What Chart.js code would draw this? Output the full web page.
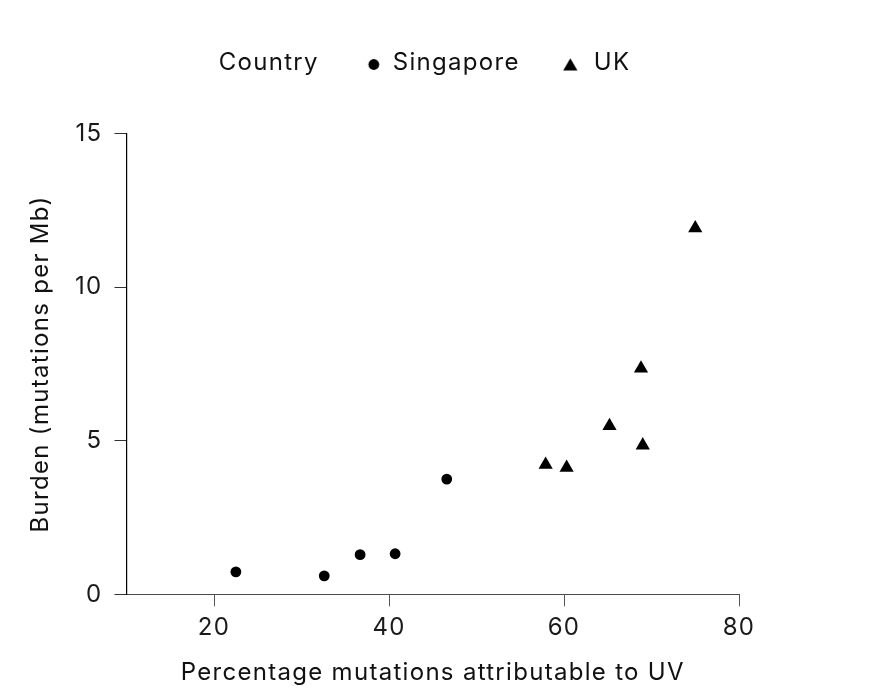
<!DOCTYPE html>
<html>
<head>
<meta charset="utf-8">
<script src="https://cdn.jsdelivr.net/npm/chart.js@4.4.1/dist/chart.umd.min.js"></script>
<style>
  html, body { margin: 0; padding: 0; background: #ffffff; }
  #wrap { width: 888px; height: 697px; position: relative; }
</style>
</head>
<body>
<div id="wrap"><canvas id="c"></canvas></div>
<script>
// ---- data ----
const seriesNames = ['Singapore', 'UK'];
const legendTitle = 'Country';
const singaporeX = [22.5, 32.6, 36.7, 40.7, 46.6];
const singaporeY = [0.73, 0.60, 1.29, 1.32, 3.75];
const ukX = [57.9, 60.3, 65.2, 68.8, 69.0, 75.0];
const ukY = [4.22, 4.12, 5.48, 7.35, 4.85, 11.92];
const xTicks = [20, 40, 60, 80];
const yTicks = [0, 5, 10, 15];
const xTitle = 'Percentage mutations attributable to UV';
const yTitle = 'Burden (mutations per Mb)';

// ---- styling ----
const FONT = 'Inter, "Noto Sans", sans-serif';
const FS = 24;
const TEXT = '#111111';
const LETTER_SPACING = '1.3px';

function toPoints(xs, ys) { return xs.map((x, i) => ({ x: x, y: ys[i] })); }

// legend symbols drawn with Chart.js' own point renderer
function symbolCanvas(style, radius, ox, oy) {
  const cv = document.createElement('canvas');
  cv.width = 30; cv.height = 30;
  const g = cv.getContext('2d');
  g.fillStyle = '#000';
  g.strokeStyle = '#000';
  Chart.helpers.drawPoint(g, { pointStyle: style, radius: radius, rotation: 0, borderWidth: 0 }, 15 + ox, 15 + oy);
  return cv;
}
const blankSymbol = document.createElement('canvas');
blankSymbol.width = 2; blankSymbol.height = 2;

const textSpacing = {
  id: 'textSpacing',
  beforeUpdate(chart) { chart.ctx.letterSpacing = LETTER_SPACING; },
  beforeLayout(chart) { chart.ctx.letterSpacing = LETTER_SPACING; },
  beforeDraw(chart) { chart.ctx.letterSpacing = LETTER_SPACING; }
};

const legendShift = {
  id: 'legendShift',
  afterLayout(chart, args, opts) {
    const lg = chart.legend;
    if (!lg) return;
    lg.left += opts.dx; lg.right += opts.dx;
    lg.top += opts.dy; lg.bottom += opts.dy;
  }
};

const symbols = [
  symbolCanvas('circle', 5.4, 0, 1.5),
  symbolCanvas('triangle', 8.2, -4.5, 3.5)
];

new Chart(document.getElementById('c'), {
  type: 'scatter',
  data: {
    datasets: [
      {
        label: seriesNames[0],
        data: toPoints(singaporeX, singaporeY),
        pointStyle: 'circle',
        pointRadius: 5.4,
        pointHoverRadius: 5.4,
        backgroundColor: '#000',
        borderColor: '#000',
        borderWidth: 0
      },
      {
        label: seriesNames[1],
        data: toPoints(ukX, ukY),
        pointStyle: 'triangle',
        pointRadius: 8.2,
        pointHoverRadius: 8.2,
        backgroundColor: '#000',
        borderColor: '#000',
        borderWidth: 0
      }
    ]
  },
  plugins: [textSpacing, legendShift],
  options: {
    responsive: true,
    maintainAspectRatio: false,
    animation: false,
    layout: { padding: { left: 20, right: 149, top: 51.5, bottom: 10 } },
    plugins: {
      legendShift: { dx: 32, dy: -48.5 },
      tooltip: { enabled: false },
      legend: {
        display: true,
        position: 'top',
        align: 'center',
        labels: {
          usePointStyle: true,
          pointStyleWidth: 14,
          padding: 48,
          color: TEXT,
          font: { family: FONT, size: FS },
          generateLabels: (chart) => {
            const items = [{
              text: legendTitle, pointStyle: blankSymbol, fillStyle: 'rgba(0,0,0,0)',
              strokeStyle: 'rgba(0,0,0,0)', lineWidth: 0, hidden: false, fontColor: TEXT
            }];
            chart.data.datasets.forEach((ds, i) => {
              items.push({
                text: ds.label, pointStyle: symbols[i], fillStyle: '#000',
                strokeStyle: '#000', lineWidth: 0, hidden: false, datasetIndex: i, fontColor: TEXT
              });
            });
            return items;
          }
        },
        onClick: () => {}
      }
    },
    scales: {
      x: {
        type: 'linear',
        position: 'bottom',
        min: 10,
        max: 80,
        afterBuildTicks: (s) => { s.ticks = xTicks.map(v => ({ value: v })); },
        afterFit: (s) => { s.height = 92.7; },
        grid: {
          display: true,
          drawOnChartArea: false,
          drawTicks: true,
          tickLength: 12,
          tickColor: '#555555',
          tickWidth: 1
        },
        border: { display: true, color: '#4a4a4a', width: 1 },
        ticks: {
          color: '#1a1a1a',
          font: { family: FONT, size: FS },
          padding: 7,
          maxRotation: 0,
          autoSkip: false
        },
        title: {
          display: true,
          text: xTitle,
          color: TEXT,
          font: { family: FONT, size: FS },
          padding: { top: 0, bottom: 0 }
        }
      },
      y: {
        type: 'linear',
        position: 'left',
        min: 0,
        max: 15,
        afterBuildTicks: (s) => { s.ticks = yTicks.map(v => ({ value: v })); },
        afterFit: (s) => { s.width = 106.5; },
        grid: {
          display: true,
          drawOnChartArea: false,
          drawTicks: true,
          tickLength: 12,
          tickColor: '#333333',
          tickWidth: 1
        },
        border: { display: true, color: '#000000', width: 1.2 },
        ticks: {
          color: '#1a1a1a',
          font: { family: FONT, size: FS },
          padding: 12,
          autoSkip: false
        },
        title: {
          display: true,
          text: yTitle,
          color: TEXT,
          font: { family: FONT, size: FS },
          padding: { top: 6, bottom: 0 }
        }
      }
    }
  }
});
</script>
</body>
</html>
